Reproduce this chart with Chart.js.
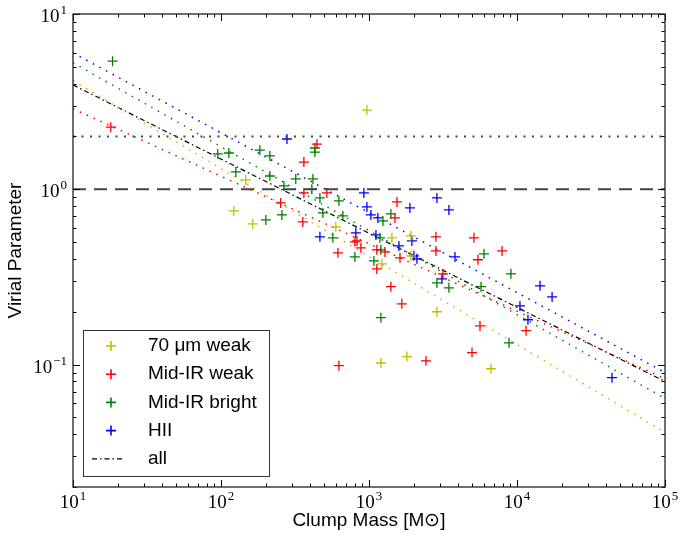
<!DOCTYPE html>
<html>
<head>
<meta charset="utf-8">
<script src="https://cdn.jsdelivr.net/npm/chart.js@4.4.1/dist/chart.umd.min.js"></script>
<style>
  html, body { margin: 0; padding: 0; background: #fff; }
  #wrap { width: 679px; height: 535px; position: relative; }
</style>
</head>
<body>
<div id="wrap"><canvas id="virialChart"></canvas></div>
<script>
// values (mass in Msun, virial parameter)
const seriesNames = ['70 \u03bcm weak', 'Mid-IR weak', 'Mid-IR bright', 'HII', 'all'];
const seriesColors = ['#bfbf00', '#ff0000', '#008000', '#0000ff', '#000000'];

const weak70Mass = [122, 164, 147, 968, 597, 1429, 1919, 1919, 1222, 2877, 1803, 1203, 6668];
const weak70Vir  = [0.752, 0.634, 1.13, 2.83, 0.610, 0.528, 0.542, 0.417, 0.375, 0.200, 0.111, 0.102, 0.0946];

const irWeakMass = [18.0, 445, 363, 363, 519, 253, 357, 1545, 1497, 803, 829, 881, 617, 1130, 1281,
                    1619, 1130, 2833, 2833, 5117, 5447, 7920, 3162, 1406, 1667, 5623, 11510, 4966, 2427, 626];
const irWeakVir  = [2.26, 1.81, 1.43, 0.953, 0.953, 0.836, 0.651, 0.847, 0.686, 0.501, 0.507, 0.463, 0.434, 0.451, 0.439,
                    0.406, 0.351, 0.535, 0.445, 0.528, 0.396, 0.445, 0.329, 0.278, 0.222, 0.166, 0.156, 0.117, 0.105, 0.0985];

const irBrightMass = [18.5, 95.1, 113, 183, 214, 126, 214, 266, 320, 418, 431, 431, 411, 466, 626, 201, 258,
                      488, 666, 570, 803, 1242, 1406, 1186, 1203, 1079, 5984, 9100, 2877, 3467, 5715, 1203, 8831];
const irBrightVir  = [5.38, 1.59, 1.61, 1.67, 1.55, 1.255, 1.19, 1.044, 1.145, 1.145, 1.72, 1.63, 1.0, 0.892, 0.858, 0.668, 0.714,
                      0.733, 0.705, 0.528, 0.411, 0.660, 0.723, 0.528, 0.451, 0.390, 0.428, 0.329, 0.292, 0.274, 0.278, 0.185, 0.133];

const hiiMass = [279, 924, 2877, 968, 1030, 1148, 1890, 3467, 815, 1114, 1950, 1593, 2012, 2108, 3811, 466,
                 3112, 14310, 17260, 10470, 11860, 43850];
const hiiVir  = [1.935, 0.953, 0.892, 0.793, 0.714, 0.686, 0.782, 0.762, 0.564, 0.549, 0.507, 0.475, 0.417, 0.401, 0.411, 0.535,
                 0.308, 0.281, 0.243, 0.216, 0.180, 0.0841];

// power-law fits, values at the two ends of the mass axis
const fitMass   = [10, 100000];
const fit70     = [4.17, 0.041];
const fitWeak   = [2.88, 0.083];
const fitBright = [5.27, 0.064];
const fitHII    = [6.0, 0.090];
const fitAll    = [3.94, 0.080];

const refLevels = [2, 1];

const xTicks = [10, 100, 1000, 10000, 100000];
const yTicks = [0.1, 1, 10];

function pts(xs, ys) {
    return xs.map((x, i) => ({x: x, y: ys[i]}));
}

function scatterSet(label, xs, ys, color) {
    return {
        label: label,
        data: pts(xs, ys),
        pointStyle: 'cross',
        pointRadius: 5,
        pointBorderWidth: 1.3,
        borderColor: color,
        backgroundColor: color,
        showLine: false
    };
}

function lineSet(label, ys, color, dash, width) {
    return {
        label: label,
        data: pts(fitMass, ys),
        showLine: true,
        pointRadius: 0,
        borderColor: color,
        borderWidth: width,
        borderDash: dash,
        fill: false
    };
}

const supers = {'-': '\u2212'};

function drawPow(ctx, value, px, py, mode) {
    const exp = Math.round(Math.log10(value));
    const expStr = String(exp).replace('-', supers['-']);
    ctx.font = '19px "Liberation Serif"';
    const wb = ctx.measureText('10').width;
    ctx.font = '13px "Liberation Serif"';
    const we = ctx.measureText(expStr).width;
    const total = wb + 1 + we;
    let x0, base;
    if (mode === 'x') {
        x0 = px - total / 2;
        base = py;
    } else {
        x0 = px - total;
        base = py + 8;
    }
    ctx.textAlign = 'left';
    ctx.textBaseline = 'alphabetic';
    ctx.fillStyle = '#000';
    ctx.font = '19px "Liberation Serif"';
    ctx.fillText('10', x0, base);
    ctx.font = '13px "Liberation Serif"';
    ctx.fillText(expStr, x0 + wb + 1, base - 8);
}

const frame = {
    id: 'frame',
    afterDraw(chart) {
        const {ctx, chartArea: a, scales: {x, y}} = chart;
        ctx.save();
        ctx.strokeStyle = '#000';
        ctx.lineWidth = 1;
        ctx.beginPath();
        for (let e = 1; e <= 5; e++) {
            for (let k = 1; k <= 9; k++) {
                const v = k * Math.pow(10, e);
                if (v > x.max * 1.0001) continue;
                const px = Math.round(x.getPixelForValue(v)) + 0.5;
                const len = k === 1 ? 7 : 3.5;
                ctx.moveTo(px, a.bottom); ctx.lineTo(px, a.bottom - len);
                ctx.moveTo(px, a.top); ctx.lineTo(px, a.top + len);
            }
        }
        for (let e = -2; e <= 1; e++) {
            for (let k = 1; k <= 9; k++) {
                const v = k * Math.pow(10, e);
                if (v < y.min * 0.9999 || v > y.max * 1.0001) continue;
                const py = Math.round(y.getPixelForValue(v)) + 0.5;
                const len = k === 1 ? 7 : 3.5;
                ctx.moveTo(a.left, py); ctx.lineTo(a.left + len, py);
                ctx.moveTo(a.right, py); ctx.lineTo(a.right - len, py);
            }
        }
        ctx.stroke();

        // axes box
        ctx.strokeStyle = '#222';
        ctx.lineWidth = 1.3;
        ctx.strokeRect(a.left, a.top, a.right - a.left, a.bottom - a.top);

        // tick labels
        xTicks.forEach(v => drawPow(ctx, v, x.getPixelForValue(v), a.bottom + 21, 'x'));
        yTicks.forEach(v => drawPow(ctx, v, a.left - 6, y.getPixelForValue(v), 'y'));

        // legend
        const lx = 83.5, ly = 330.5, lw = 186, lh = 146;
        ctx.fillStyle = '#fff';
        ctx.fillRect(lx, ly, lw, lh);
        ctx.strokeStyle = '#333';
        ctx.lineWidth = 1;
        ctx.strokeRect(lx, ly, lw, lh);
        ctx.font = '19px "Liberation Sans"';
        ctx.textBaseline = 'middle';
        ctx.textAlign = 'left';
        seriesNames.forEach((name, i) => {
            const ry = 346 + i * 28.2;
            ctx.strokeStyle = seriesColors[i];
            if (i < 4) {
                ctx.lineWidth = 1.6;
                ctx.beginPath();
                ctx.moveTo(106, ry); ctx.lineTo(116, ry);
                ctx.moveTo(111, ry - 5); ctx.lineTo(111, ry + 5);
                ctx.stroke();
            } else {
                ctx.lineWidth = 1.2;
                ctx.setLineDash([5, 3, 1.5, 3]);
                ctx.beginPath();
                ctx.moveTo(92, ry); ctx.lineTo(124, ry);
                ctx.stroke();
                ctx.setLineDash([]);
            }
            ctx.fillStyle = '#000';
            ctx.fillText(name, 148, ry);
        });
        ctx.restore();
    }
};

new Chart(document.getElementById('virialChart'), {
    type: 'scatter',
    data: {
        datasets: [
            lineSet('y=2', [refLevels[0], refLevels[0]], '#444', [2, 6.5], 1.8),
            lineSet('y=1', [refLevels[1], refLevels[1]], '#444', [13, 8], 1.8),
            scatterSet(seriesNames[0], weak70Mass, weak70Vir, seriesColors[0]),
            scatterSet(seriesNames[1], irWeakMass, irWeakVir, seriesColors[1]),
            scatterSet(seriesNames[2], irBrightMass, irBrightVir, seriesColors[2]),
            scatterSet(seriesNames[3], hiiMass, hiiVir, seriesColors[3]),
            lineSet('fit 70', fit70, seriesColors[0], [1.5, 6], 1.5),
            lineSet('fit weak', fitWeak, seriesColors[1], [1.5, 6], 1.5),
            lineSet('fit bright', fitBright, seriesColors[2], [1.5, 6], 1.5),
            lineSet('fit HII', fitHII, seriesColors[3], [1.5, 6], 1.5),
            lineSet(seriesNames[4], fitAll, seriesColors[4], [5, 3, 1.5, 3], 1.2)
        ]
    },
    options: {
        responsive: true,
        maintainAspectRatio: false,
        animation: false,
        layout: { padding: { left: 0, right: 14, top: 14, bottom: 0 } },
        plugins: {
            legend: { display: false },
            tooltip: { enabled: false }
        },
        scales: {
            x: {
                type: 'logarithmic',
                position: 'bottom',
                min: 10,
                max: 100000,
                grid: { display: false },
                border: { display: false },
                ticks: { display: false },
                title: {
                    display: true,
                    text: 'Clump Mass [M\u2299]',
                    color: '#000',
                    font: { family: 'Liberation Sans', size: 19 },
                    padding: { top: 0, bottom: 3 }
                },
                afterFit(scale) { scale.height = 48; }
            },
            y: {
                type: 'logarithmic',
                position: 'left',
                min: 0.02,
                max: 10,
                grid: { display: false },
                border: { display: false },
                ticks: { display: false },
                title: {
                    display: true,
                    text: 'Virial Parameter',
                    color: '#000',
                    font: { family: 'Liberation Sans', size: 19 },
                    padding: { top: 4, bottom: 0 }
                },
                afterFit(scale) { scale.width = 73; }
            }
        }
    },
    plugins: [frame]
});
</script>
</body>
</html>
